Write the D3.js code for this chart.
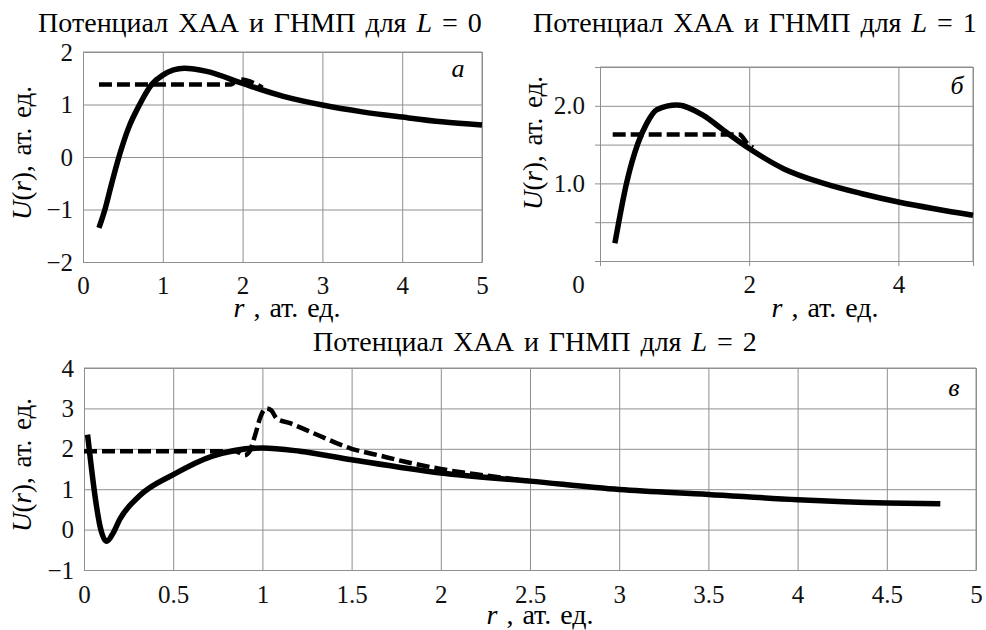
<!DOCTYPE html>
<html>
<head>
<meta charset="utf-8">
<script src="https://cdn.jsdelivr.net/npm/d3@7"></script>
<style>
  body { margin: 0; background: #fff; }
</style>
</head>
<body>
<svg width="986" height="630" style="font-family: 'Liberation Serif', Times, serif"></svg>
<script>
// panel a, L = 0
const rA = [0.2, 0.275, 0.36, 0.45, 0.57, 0.71, 0.86, 1.0, 1.27, 1.55, 2.0, 2.5, 3.0, 3.5, 4.0, 4.5, 5.0]
const uA = [-1.35, -1.0, -0.5, 0.0, 0.55, 1.0, 1.38, 1.56, 1.69, 1.63, 1.4, 1.16, 0.99, 0.86, 0.76, 0.67, 0.61]
const rAdash = [0.2, 1.85, 1.95, 2.05, 2.25]
const uAdash = [1.38, 1.38, 1.48, 1.46, 1.32]

// panel б, L = 1
const rB = [0.2, 0.36, 0.51, 0.625, 0.76, 1.03, 1.38, 1.65, 2.0, 2.46, 3.0, 3.5, 4.0, 4.5, 5.0]
const uB = [0.23, 1.02, 1.52, 1.77, 1.95, 2.01, 1.88, 1.69, 1.45, 1.19, 1.0, 0.87, 0.76, 0.67, 0.59]
const rBdash = [0.17, 1.87, 1.97, 2.05]
const uBdash = [1.63, 1.63, 1.52, 1.46]

// panel в, L = 2
const rC = [0.02, 0.07, 0.09, 0.127, 0.164, 0.2, 0.31, 0.5, 0.72, 1.0, 1.21, 1.5, 2.0, 2.5, 3.0, 3.5, 4.0, 4.5, 4.8]
const uC = [2.35, 0.58, 0.08, -0.29, -0.08, 0.25, 0.83, 1.36, 1.82, 2.02, 1.94, 1.73, 1.4, 1.2, 0.99, 0.87, 0.74, 0.66, 0.64]
const rCdash = [0.0, 0.85, 0.9, 0.93, 0.96, 0.99, 1.02, 1.05, 1.08, 1.15, 1.3, 1.5, 1.65, 1.8, 2.0, 2.25, 2.5]
const uCdash = [1.94, 1.94, 1.84, 1.95, 2.35, 2.8, 3.0, 2.95, 2.75, 2.64, 2.36, 2.0, 1.84, 1.68, 1.5, 1.34, 1.2]

const xTicksA = [0, 1, 2, 3, 4, 5]
const yTicksA = [-2, -1, 0, 1, 2]
const xTicksB = [0, 2, 4, 5]
const yTicksB = [0, 0.5, 1, 1.5, 2, 2.5]
const yLabelsB = [1, 2]
const xTicksC = [0, 0.5, 1, 1.5, 2, 2.5, 3, 3.5, 4, 4.5, 5]
const yTicksC = [-1, 0, 1, 2, 3, 4]

const svg = d3.select('svg')
const grey = '#8f8f8f'
const serif = "'Liberation Serif', Times, serif"
const minus = s => String(s).replace('-', '\u2212')

function drawPanel (p) {
  const w = p.right - p.left
  const h = p.bottom - p.top
  const x = d3.scaleLinear().domain(p.xDomain).range([0, w])
  const y = d3.scaleLinear().domain(p.yDomain).range([h, 0])
  const g = svg.append('g').attr('transform', 'translate(' + p.left + ',' + p.top + ')')

  const xAxis = d3.axisBottom(x).tickValues(p.xTicks).tickSize(-h).tickPadding(p.xPad || 14)
    .tickFormat(p.xFormat || (d => minus(d)))
  const yAxis = d3.axisLeft(y).tickValues(p.yTicks).tickSize(-w).tickPadding(p.yPad || 10)
    .tickFormat(p.yFormat || (d => minus(d)))

  const gx = g.append('g').attr('transform', 'translate(0,' + h + ')').call(xAxis)
  const gy = g.append('g').call(yAxis)

  ;[gx, gy].forEach(a => {
    a.attr('font-family', serif).attr('font-size', 25)
    a.select('.domain').attr('stroke', grey)
    a.selectAll('line').attr('stroke', grey).attr('stroke-width', 1)
    a.selectAll('text').attr('fill', '#111').attr('font-family', serif).attr('font-size', 25)
  })
  gx.selectAll('text').attr('dy', '0.71em')
  if (p.outTicks) {
    gy.selectAll('.tick line').attr('x1', -5)
    gx.selectAll('.tick line').attr('y1', 5)
  }
  if (p.xZeroShift) {
    gx.selectAll('.tick text').filter(d => d === 0).attr('dx', p.xZeroShift)
  }

  // border top / right
  g.append('line').attr('x1', 0).attr('x2', w).attr('y1', 0).attr('y2', 0).attr('stroke', grey)
  g.append('line').attr('x1', w).attr('x2', w).attr('y1', 0).attr('y2', h).attr('stroke', grey)

  const line = d3.line().x(d => x(d[0])).y(d => y(d[1])).curve(d3.curveMonotoneX)

  g.append('path')
    .datum(d3.zip(p.rDash, p.uDash))
    .attr('d', line)
    .attr('fill', 'none')
    .attr('stroke', '#000')
    .attr('stroke-width', 4.5)
    .attr('stroke-dasharray', '13,5')

  g.append('path')
    .datum(d3.zip(p.r, p.u))
    .attr('d', line)
    .attr('fill', 'none')
    .attr('stroke', '#000')
    .attr('stroke-width', 5.5)

  // panel letter
  g.append('text')
    .attr('x', p.letterX - p.left)
    .attr('y', p.letterY - p.top)
    .attr('dy', '0.35em')
    .attr('text-anchor', 'middle')
    .attr('font-family', serif)
    .attr('font-size', 26)
    .attr('font-style', 'italic')
    .text(p.letter)

  // title
  const t = svg.append('text')
    .attr('x', p.titleX)
    .attr('y', p.titleY)
    .attr('text-anchor', 'middle')
    .attr('font-family', serif)
    .attr('font-size', 28)
    .attr('word-spacing', 3)
  t.append('tspan').text('Потенциал ХАА и ГНМП для ')
  t.append('tspan').attr('font-style', 'italic').text('L')
  t.append('tspan').text(' = ' + p.L)

  // x title
  const xt = svg.append('text')
    .attr('x', p.xTitleX)
    .attr('y', p.xTitleY)
    .attr('text-anchor', 'middle')
    .attr('font-family', serif)
    .attr('font-size', 28)
    .attr('word-spacing', 2)
  xt.append('tspan').attr('font-style', 'italic').text('r')
  xt.append('tspan').text(' , ат. ед.')

  // y title
  const yt = svg.append('text')
    .attr('transform', 'translate(' + p.yTitleX + ',' + p.yTitleY + ') rotate(-90)')
    .attr('text-anchor', 'middle')
    .attr('dy', '0.35em')
    .attr('font-family', serif)
    .attr('font-size', 27)
    .attr('word-spacing', 3)
  yt.append('tspan').attr('font-style', 'italic').text('U')
  yt.append('tspan').text('(')
  yt.append('tspan').attr('font-style', 'italic').text('r')
  yt.append('tspan').text('), ат. ед.')
}

drawPanel({
  left: 83, right: 482, top: 52, bottom: 262,
  xDomain: [0, 5], yDomain: [-2, 2],
  xTicks: xTicksA, yTicks: yTicksA,
  r: rA, u: uA, rDash: rAdash, uDash: uAdash,
  letter: 'a', letterX: 458, letterY: 68,
  L: 0, titleX: 260, titleY: 32,
  xTitleX: 287, xTitleY: 317,
  yTitleX: 22, yTitleY: 153
})

drawPanel({
  left: 600, right: 973, top: 67, bottom: 261,
  xDomain: [0, 5], yDomain: [0, 2.5],
  xTicks: xTicksB, yTicks: yTicksB,
  xFormat: d => (d === 5 ? '' : d),
  yFormat: d => (yLabelsB.includes(d) ? d.toFixed(1) : ''),
  yPad: 15, outTicks: true, xZeroShift: -22,
  r: rB, u: uB, rDash: rBdash, uDash: uBdash,
  letter: 'б', letterX: 957, letterY: 85,
  L: 1, titleX: 755, titleY: 32,
  xTitleX: 825, xTitleY: 317,
  yTitleX: 533, yTitleY: 143
})

drawPanel({
  left: 84, right: 976, top: 368, bottom: 570,
  xDomain: [0, 5], yDomain: [-1, 4],
  xTicks: xTicksC, yTicks: yTicksC,
  r: rC, u: uC, rDash: rCdash, uDash: uCdash,
  xPad: 15,
  letter: 'в', letterX: 954, letterY: 387,
  L: 2, titleX: 535, titleY: 351,
  xTitleX: 540, xTitleY: 624,
  yTitleX: 22, yTitleY: 465
})
</script>
</body>
</html>
